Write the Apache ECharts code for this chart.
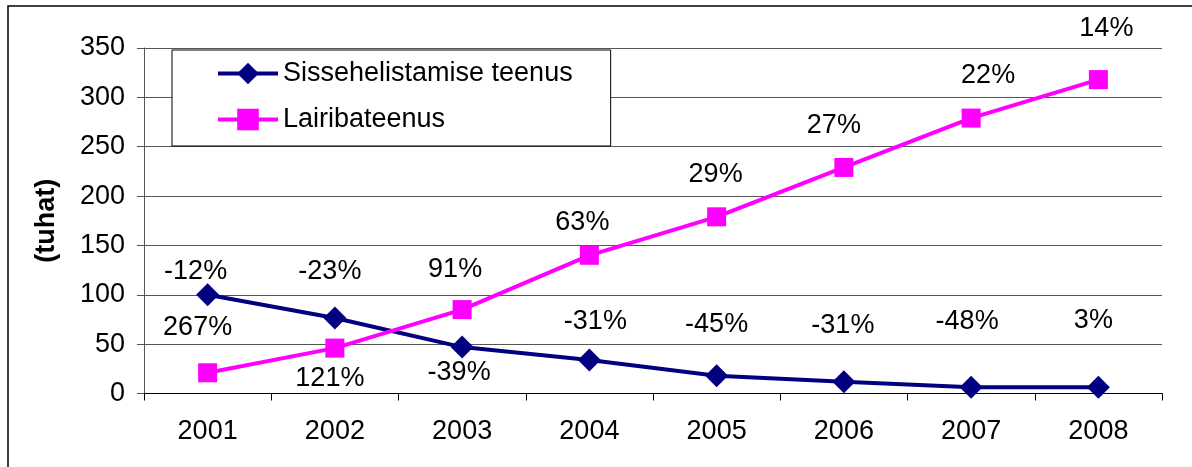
<!DOCTYPE html>
<html>
<head>
<meta charset="utf-8">
<script src="https://cdn.jsdelivr.net/npm/echarts@6/dist/echarts.min.js"></script>
<style>
  html, body { margin: 0; padding: 0; background: #fff; }
  #chart { width: 1192px; height: 467px; }
</style>
</head>
<body>
<div id="chart"></div>
<script>
const years = ['2001', '2002', '2003', '2004', '2005', '2006', '2007', '2008'];
const dialup = [100, 76.5, 47, 34, 18, 12, 6.3, 6.3];
const broadband = [21, 46, 85, 140, 179, 229, 279, 318];
const dialupChange = ['-12%', '-23%', '-39%', '-31%', '-45%', '-31%', '-48%', '3%'];
const broadbandChange = ['267%', '121%', '91%', '63%', '29%', '27%', '22%', '14%'];

// label placement (px from the marker), as in the original sheet
const dialupLabelShift = [[-12, -23], [-5, -46], [-3, 25], [6, -38], [0, -51], [-1, -56], [-4, -66], [-5, -67]];
const broadbandLabelShift = [[-10, -45], [-5, 30], [-7, -40], [-7, -33], [-1, -42], [-10, -42], [17, -43], [8, -51]];

const FONT = 'Liberation Sans, Arial, sans-serif';

function withLabels(values, texts, shifts) {
  return values.map((v, i) => ({
    value: v,
    label: {
      show: true,
      position: 'inside',
      offset: shifts[i],
      formatter: texts[i],
      color: '#000',
      fontSize: 27,
      fontFamily: FONT
    }
  }));
}

const chart = echarts.init(document.getElementById('chart'));
chart.setOption({
  animation: false,
  backgroundColor: '#fff',
  textStyle: { fontFamily: FONT },
  graphic: [{
    type: 'rect',
    shape: { x: 8, y: 6, width: 1200, height: 500 },
    style: { fill: null, stroke: '#000', lineWidth: 1.5 },
    z: -1
  }],
  grid: { left: 144, right: 30, top: 48, bottom: 73.5 },
  legend: {
    left: 172,
    top: 50,
    orient: 'vertical',
    backgroundColor: '#fff',
    borderColor: '#000',
    borderWidth: 1,
    padding: [10, 38, 13, 44],
    itemWidth: 60,
    itemHeight: 27,
    itemGap: 19,
    textStyle: { fontSize: 27, fontFamily: FONT, color: '#000', lineHeight: 27 },
    lineStyle: { width: 4 },
    data: ['Sissehelistamise teenus', 'Lairibateenus']
  },
  xAxis: {
    type: 'category',
    data: years,
    boundaryGap: true,
    axisLine: { lineStyle: { color: '#000', width: 1 } },
    axisTick: { show: true, length: 7, lineStyle: { color: '#000' } },
    axisLabel: { fontSize: 27, color: '#000', margin: 25, fontFamily: FONT }
  },
  yAxis: {
    type: 'value',
    min: 0,
    max: 350,
    interval: 50,
    name: '(tuhat)',
    nameLocation: 'middle',
    nameGap: 84,
    nameTextStyle: { fontSize: 27, fontWeight: 'bold', color: '#000', fontFamily: FONT },
    axisLine: { show: true, lineStyle: { color: '#555', width: 1 } },
    axisTick: { show: true, length: 7, lineStyle: { color: '#555' } },
    axisLabel: { fontSize: 27, color: '#000', margin: 19, fontFamily: FONT },
    splitLine: { lineStyle: { color: '#555', width: 1 } }
  },
  series: [
    {
      name: 'Sissehelistamise teenus',
      type: 'line',
      data: withLabels(dialup, dialupChange, dialupLabelShift),
      symbol: 'diamond',
      symbolSize: 23,
      color: '#000080',
      lineStyle: { color: '#000080', width: 4 },
      itemStyle: { color: '#000080' },
      z: 3
    },
    {
      name: 'Lairibateenus',
      type: 'line',
      data: withLabels(broadband, broadbandChange, broadbandLabelShift),
      symbol: 'rect',
      symbolSize: 19,
      color: '#ff00ff',
      lineStyle: { color: '#ff00ff', width: 4 },
      itemStyle: { color: '#ff00ff' },
      z: 4
    }
  ]
});
</script>
</body>
</html>
